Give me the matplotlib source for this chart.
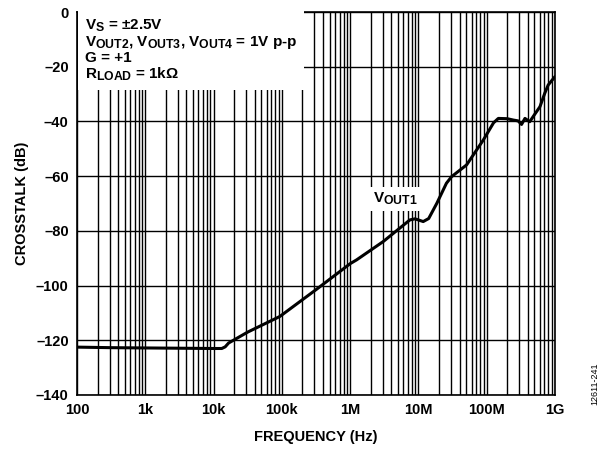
import matplotlib
matplotlib.use("Agg")
import matplotlib.pyplot as plt
import matplotlib._mathtext as _mt
import numpy as np
from matplotlib.ticker import LogLocator, FixedLocator, NullFormatter

_mt.SHRINK_FACTOR = 0.8

plt.rcParams['font.family'] = ['Liberation Sans', 'DejaVu Sans']
plt.rcParams['font.weight'] = 'bold'
plt.rcParams['mathtext.fontset'] = 'custom'
plt.rcParams['mathtext.rm'] = 'Liberation Sans:bold'
plt.rcParams['mathtext.it'] = 'Liberation Sans:bold'
plt.rcParams['mathtext.bf'] = 'Liberation Sans:bold'

# data (log10 frequency, crosstalk dB)
log_freq = [2.0, 2.5, 3.0, 3.5, 4.0, 4.12, 4.17, 4.22, 4.5, 4.97, 5.5, 6.0, 6.095, 6.485,
            6.875, 6.95, 7.07, 7.15, 7.27, 7.41, 7.485, 7.705, 7.95, 8.1, 8.17, 8.3, 8.39,
            8.46, 8.51, 8.56, 8.63, 8.7, 8.78, 8.85, 8.9, 9.0]
crosstalk = [-122.5, -122.7, -122.8, -122.9, -123.0, -123.0, -122.4, -121.0, -117.0,
             -111.3, -101.5, -92.0, -90.6, -83.9, -76.0, -75.6, -76.6, -75.5, -69.9, -62.6,
             -60.2, -55.9, -46.8, -40.5, -38.9, -39.0, -39.5, -39.8, -41.1, -38.9, -40.1,
             -37.5, -34.6, -29.7, -26.7, -23.6]
y_ticks = [0, -20, -40, -60, -80, -100, -120, -140]
y_labels = ['0', '–20', '–40', '–60', '–80', '–100', '–120', '–140']
x_ticks = [1e2, 1e3, 1e4, 1e5, 1e6, 1e7, 1e8, 1e9]
x_labels = ['100', '1k', '10k', '100k', '1M', '10M', '100M', '1G']

freq = 10 ** np.array(log_freq)

fig = plt.figure(figsize=(6.07, 4.5), dpi=100)
ax = fig.add_axes([77/607, 1 - 395/450, (555-77)/607, (395-12)/450])

ax.plot(freq, crosstalk, color='black', lw=2.2, solid_capstyle='round',
        solid_joinstyle='round', zorder=3)
ax.set_xscale('log')
ax.set_xlim(1e2, 1e9)
ax.set_ylim(-140, 0)
ax.xaxis.set_major_locator(FixedLocator(x_ticks))
ax.set_xticklabels(x_labels)
ax.xaxis.set_minor_locator(LogLocator(base=10, subs=np.arange(2, 10)))
ax.xaxis.set_minor_formatter(NullFormatter())
ax.set_yticks(y_ticks)
ax.set_yticklabels(y_labels)
ax.grid(True, which='major', color='black', lw=1.0)
ax.grid(True, which='minor', axis='x', color='black', lw=1.0)
ax.tick_params(which='both', length=0, labelsize=10.5)
ax.tick_params(axis='x', pad=6)
ax.tick_params(axis='y', pad=6)
for lab in ax.get_xticklabels() + ax.get_yticklabels():
    lab.set_fontweight('bold')
for s in ax.spines.values():
    s.set_linewidth(1.2)

ax.set_xlabel('FREQUENCY (Hz)', fontsize=10.5, fontweight='bold', labelpad=9)
ax.set_ylabel('CROSSTALK (dB)', fontsize=10.5, fontweight='bold', labelpad=5)

txt = ('V$_{\\rm S}$ = ±2.5V\n'
       'V$_{\\rm OUT2}$, V$_{\\rm OUT3}$, V$_{\\rm OUT4}$ = 1V p-p\n'
       'G = +1\n'
       'R$_{\\rm LOAD}$ = 1kΩ')
ax.text(8/478, 1 - 6/383, txt, transform=ax.transAxes, ha='left', va='top', fontsize=11,
        fontweight='bold', linespacing=1.0, zorder=4,
        bbox=dict(facecolor='white', edgecolor='none', pad=5))

ax.text(2.16e6, -69.8, 'V$_{\\rm OUT1}$', ha='left', va='baseline', fontsize=11,
        fontweight='bold', zorder=4,
        bbox=dict(facecolor='white', edgecolor='none', pad=3))

fig.text(595/607, 1 - 405/450, '12611-241', rotation=90, ha='center', va='bottom',
         fontsize=6.5, fontweight='normal')

fig.savefig('out.png', dpi=100)
